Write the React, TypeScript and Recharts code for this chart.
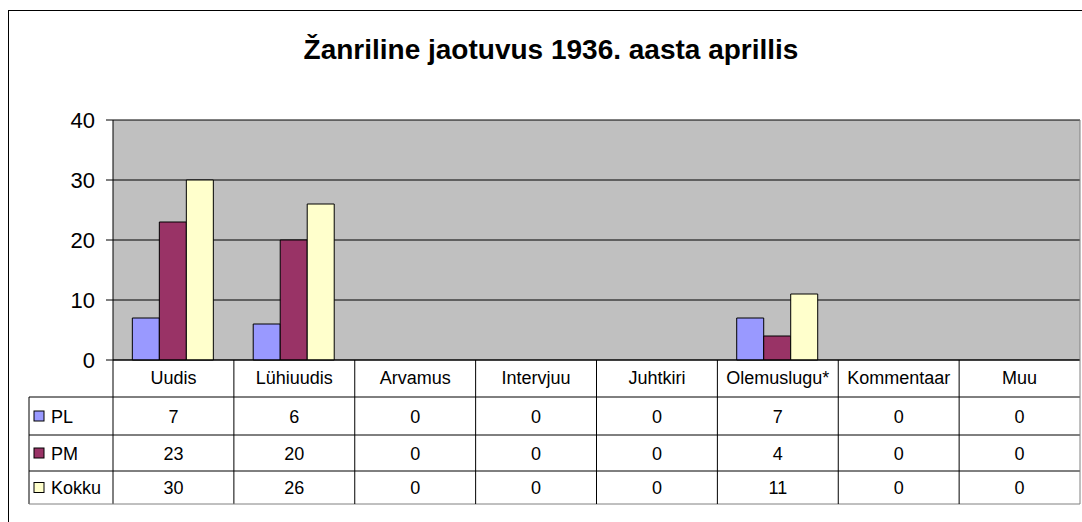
import { BarChart, Bar, XAxis, YAxis, CartesianGrid } from "recharts"

const categories = ["Uudis", "Lühiuudis", "Arvamus", "Intervjuu", "Juhtkiri", "Olemuslugu*", "Kommentaar", "Muu"]
const plValues = [7, 6, 0, 0, 0, 7, 0, 0]
const pmValues = [23, 20, 0, 0, 0, 4, 0, 0]
const kokkuValues = [30, 26, 0, 0, 0, 11, 0, 0]
const yTicks = [0, 10, 20, 30, 40]

const series = [
  { key: "PL", name: "PL", color: "#9999FF", values: plValues },
  { key: "PM", name: "PM", color: "#993366", values: pmValues },
  { key: "Kokku", name: "Kokku", color: "#FFFFCC", values: kokkuValues },
]

const data = categories.map((name, i) => ({
  name,
  PL: plValues[i],
  PM: pmValues[i],
  Kokku: kokkuValues[i],
}))

const W = 1082
const H = 522
const PLOT_LEFT = 113
const PLOT_RIGHT = 1080
const PLOT_TOP = 120
const PLOT_BOTTOM = 360
const TABLE_LEFT = 29
const rowLines = [37, 75, 111, 144]
const font = "'Liberation Sans', Arial, sans-serif"
const cellFont = 18

const half = (PLOT_RIGHT - PLOT_LEFT) / categories.length / 2

function TableColumn(props: any) {
  const { x, y, payload, index } = props
  const left = x - half
  const right = x + half
  const bottom = y + rowLines[rowLines.length - 1]
  const isLast = index === categories.length - 1
  return (
    <g>
      <text x={x} y={y + 24} textAnchor="middle" fontSize={cellFont} fontFamily={font} fill="#000">
        {payload.value}
      </text>
      <line x1={right} y1={isLast ? y - (PLOT_BOTTOM - PLOT_TOP) : y} x2={right} y2={bottom} stroke={isLast ? "#808080" : "#000"} />
      {series.map((s, r) => (
        <text
          key={s.key}
          x={x}
          y={y + (rowLines[r] + rowLines[r + 1]) / 2 + 6.5}
          textAnchor="middle"
          fontSize={cellFont}
          fontFamily={font}
          fill="#000"
        >
          {s.values[index]}
        </text>
      ))}
      {index === 0 && (
        <g>
          <line x1={left} y1={y} x2={left} y2={bottom} stroke="#000" />
          <line x1={TABLE_LEFT} y1={y + rowLines[0]} x2={TABLE_LEFT} y2={bottom} stroke="#000" />
          {rowLines.map((r, k) => (
            <line
              key={k}
              x1={TABLE_LEFT}
              y1={y + r}
              x2={PLOT_RIGHT}
              y2={y + r}
              stroke={k === rowLines.length - 1 ? "#808080" : "#000"}
            />
          ))}
          {series.map((s, r) => {
            const cy = y + (rowLines[r] + rowLines[r + 1]) / 2
            return (
              <g key={s.key}>
                <rect x={34} y={cy - 5} width={10} height={10} fill={s.color} stroke="#000" />
                <text x={51} y={cy + 6.5} fontSize={cellFont} fontFamily={font} fill="#000">
                  {s.name}
                </text>
              </g>
            )
          })}
        </g>
      )}
    </g>
  )
}

export default function App() {
  return (
    <div style={{ position: "absolute", left: 0, top: 0, width: W, height: H, overflow: "hidden", background: "#fff" }}>
      <div
        style={{
          position: "absolute",
          left: 8,
          top: 10,
          width: 1200,
          height: 700,
          border: "1px solid #000",
        }}
      />
      <div
        style={{
          position: "absolute",
          top: 34,
          left: 10,
          width: W,
          textAlign: "center",
          fontFamily: font,
          fontWeight: "bold",
          fontSize: 28,
          lineHeight: "32px",
        }}
      >
        Žanriline jaotuvus 1936. aasta aprillis
      </div>
      <div style={{ position: "absolute", left: 0, top: 0 }}>
        <BarChart
          width={W}
          height={H}
          data={data}
          margin={{ top: PLOT_TOP, left: 0, right: W - PLOT_RIGHT, bottom: H - PLOT_BOTTOM - 150 }}
          barCategoryGap="16%"
          barGap={0}
        >
          <CartesianGrid vertical={false} stroke="#000" fill="#C0C0C0" fillOpacity={1} />
          <XAxis
            dataKey="name"
            interval={0}
            height={150}
            tickLine={false}
            tickSize={0}
            tickMargin={0}
            axisLine={{ stroke: "#000" }}
            tick={<TableColumn />}
          />
          <YAxis
            width={PLOT_LEFT}
            domain={[0, 40]}
            ticks={yTicks}
            interval={0}
            tickSize={7}
            tickMargin={11}
            axisLine={{ stroke: "#000" }}
            tickLine={{ stroke: "#000" }}
            tick={{ fontSize: 22, fill: "#000", fontFamily: font }}
          />
          {series.map((s) => (
            <Bar key={s.key} dataKey={s.key} fill={s.color} stroke="#000" strokeWidth={1} isAnimationActive={false} />
          ))}
        </BarChart>
      </div>
    </div>
  )
}
